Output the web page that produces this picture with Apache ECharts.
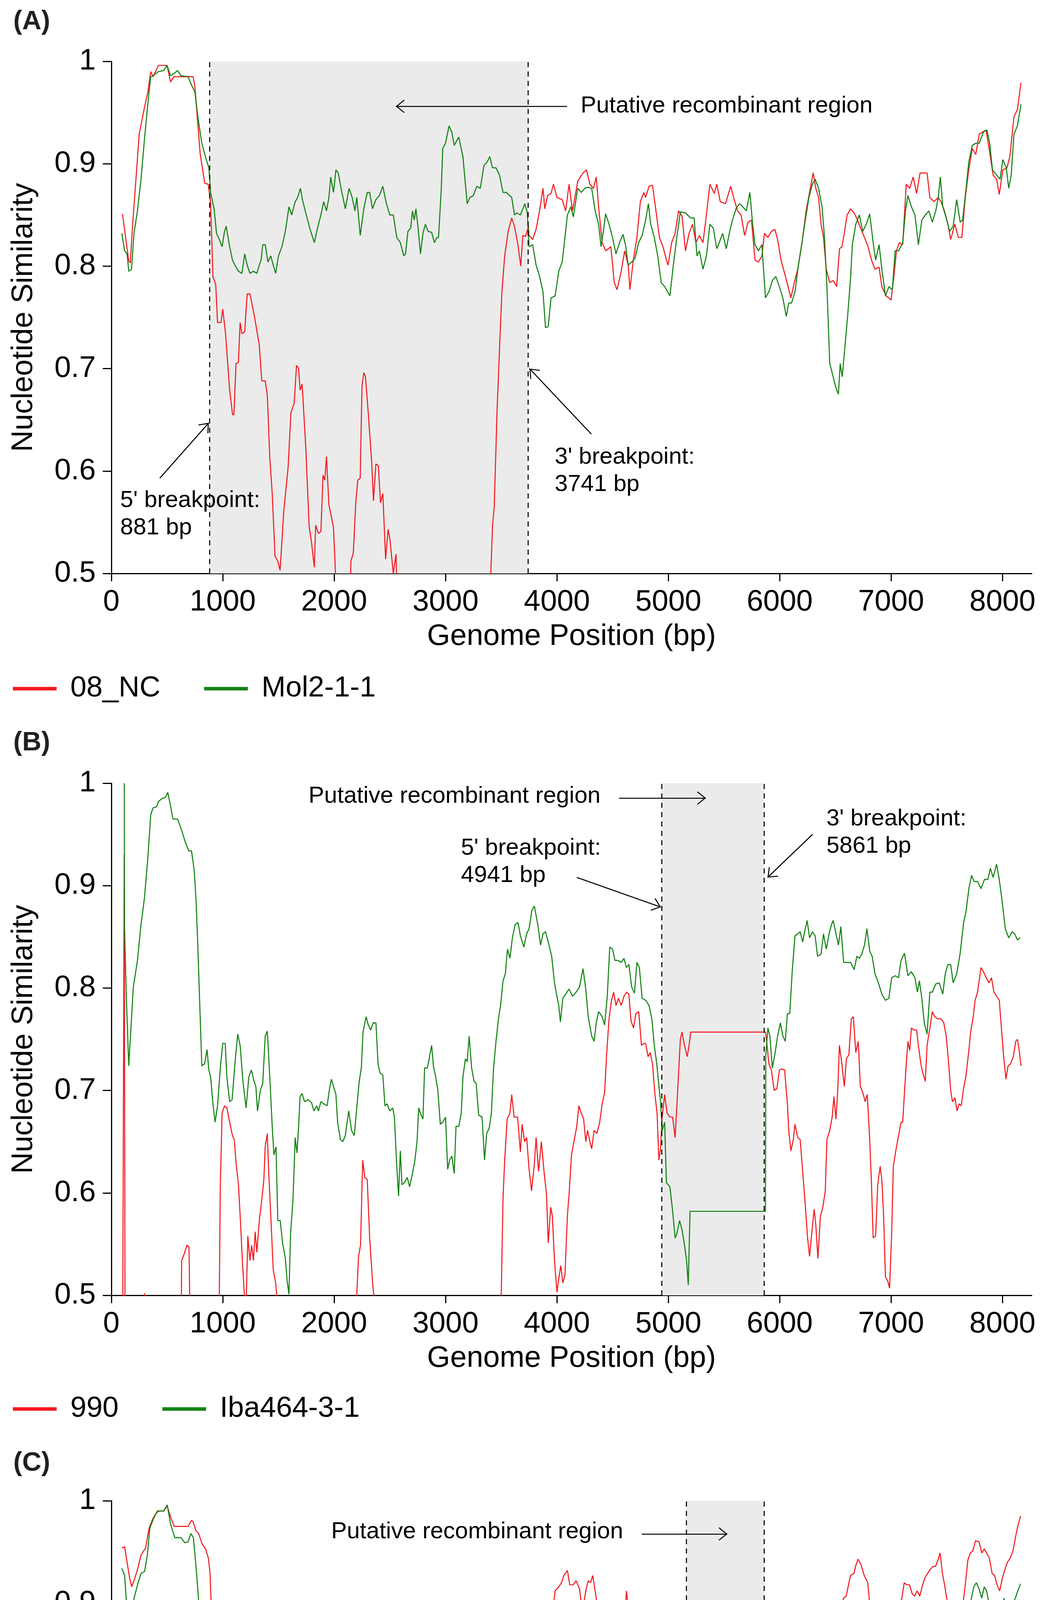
<!DOCTYPE html>
<html>
<head>
<meta charset="utf-8">
<title>Nucleotide similarity plots</title>
<script src="https://cdn.jsdelivr.net/npm/echarts@6/dist/echarts.min.js"></script>
<style>
html, body { margin: 0; padding: 0; background: #fff; }
#chart { width: 2692px; height: 5495px; }
</style>
</head>
<body>
<div id="chart"></div>
<script>
// axis ticks
const xTicks = [0, 1000, 2000, 3000, 4000, 5000, 6000, 7000, 8000];
const yTicks = [0.5, 0.6, 0.7, 0.8, 0.9, 1];

// ---- panel A : [genome position (bp), similarity]
const namesA = ['08_NC', 'Mol2-1-1'];
const regionA = [881, 3741];
const simA_08NC = [[100,0.851],[156,0.805],[170,0.803],[188,0.836],[250,0.929],[297,0.955],[328,0.970],[353,0.990],[375,0.985],[422,0.996],[500,0.996],[531,0.980],[562,0.985],[688,0.985],[734,0.985],[750,0.975],[797,0.910],[838,0.881],[869,0.880],[890,0.863],[912,0.790],[937,0.782],[953,0.745],[984,0.745],[1000,0.758],[1025,0.734],[1062,0.679],[1088,0.655],[1100,0.655],[1119,0.705],[1140,0.706],[1156,0.745],[1172,0.734],[1197,0.736],[1219,0.773],[1244,0.773],[1281,0.753],[1328,0.723],[1350,0.688],[1381,0.688],[1400,0.674],[1422,0.613],[1444,0.578],[1469,0.517],[1494,0.512],[1515,0.503],[1547,0.560],[1587,0.604],[1612,0.657],[1641,0.666],[1662,0.703],[1681,0.700],[1694,0.679],[1712,0.685],[1744,0.626],[1775,0.547],[1797,0.530],[1822,0.506],[1834,0.547],[1859,0.539],[1881,0.541],[1900,0.596],[1916,0.591],[1931,0.614],[1953,0.567],[1994,0.545],[2009,0.508],[2025,0.46],[2090,0.42],[2145,0.47],[2150,0.512],[2172,0.520],[2194,0.569],[2212,0.591],[2234,0.593],[2250,0.683],[2266,0.696],[2281,0.692],[2306,0.657],[2337,0.609],[2353,0.571],[2375,0.607],[2397,0.605],[2416,0.569],[2437,0.578],[2462,0.514],[2484,0.543],[2500,0.534],[2531,0.500],[2556,0.519],[2565,0.46],[3000,0.40],[3400,0.46],[3406,0.500],[3422,0.547],[3437,0.565],[3462,0.657],[3484,0.718],[3506,0.775],[3531,0.810],[3562,0.834],[3594,0.847],[3619,0.839],[3650,0.821],[3675,0.800],[3694,0.830],[3719,0.829],[3744,0.839],[3750,0.830],[3782,0.826],[3813,0.836],[3844,0.854],[3875,0.876],[3891,0.856],[3916,0.869],[3947,0.871],[3969,0.880],[4000,0.867],[4047,0.865],[4078,0.854],[4109,0.880],[4140,0.854],[4187,0.883],[4234,0.891],[4265,0.894],[4296,0.880],[4328,0.876],[4353,0.887],[4374,0.858],[4406,0.823],[4437,0.815],[4484,0.819],[4515,0.784],[4540,0.777],[4577,0.795],[4608,0.815],[4640,0.801],[4655,0.777],[4686,0.806],[4718,0.828],[4749,0.863],[4780,0.872],[4796,0.867],[4827,0.878],[4858,0.879],[4889,0.854],[4920,0.828],[4952,0.819],[4983,0.806],[4998,0.801],[5030,0.823],[5061,0.832],[5092,0.854],[5123,0.849],[5154,0.815],[5186,0.832],[5217,0.841],[5248,0.823],[5279,0.830],[5311,0.823],[5342,0.850],[5373,0.880],[5413,0.871],[5435,0.880],[5466,0.863],[5513,0.861],[5560,0.878],[5591,0.865],[5622,0.854],[5653,0.850],[5685,0.830],[5716,0.843],[5747,0.845],[5778,0.806],[5809,0.804],[5840,0.810],[5863,0.832],[5894,0.828],[5925,0.834],[5956,0.836],[5981,0.826],[6012,0.806],[6044,0.793],[6075,0.780],[6100,0.769],[6131,0.784],[6162,0.797],[6200,0.823],[6237,0.854],[6268,0.872],[6300,0.891],[6324,0.876],[6349,0.867],[6371,0.841],[6393,0.828],[6418,0.797],[6449,0.784],[6480,0.786],[6511,0.780],[6537,0.817],[6558,0.819],[6580,0.832],[6605,0.850],[6636,0.856],[6668,0.852],[6699,0.845],[6730,0.836],[6761,0.828],[6793,0.819],[6824,0.806],[6855,0.797],[6892,0.799],[6917,0.780],[6955,0.771],[6980,0.769],[7000,0.767],[7026,0.791],[7048,0.815],[7073,0.823],[7104,0.821],[7136,0.880],[7167,0.876],[7198,0.887],[7229,0.871],[7260,0.891],[7292,0.891],[7323,0.891],[7348,0.867],[7385,0.863],[7423,0.867],[7448,0.863],[7479,0.854],[7510,0.841],[7535,0.826],[7572,0.841],[7604,0.828],[7635,0.828],[7666,0.867],[7697,0.894],[7729,0.915],[7760,0.909],[7791,0.929],[7822,0.931],[7853,0.933],[7885,0.911],[7916,0.889],[7947,0.885],[7971,0.870],[8003,0.894],[8040,0.896],[8066,0.907],[8103,0.946],[8134,0.953],[8166,0.979]];
const simA_Mol211 = [[94,0.832],[119,0.815],[141,0.812],[156,0.795],[181,0.797],[203,0.832],[234,0.854],[266,0.885],[297,0.924],[328,0.959],[353,0.985],[375,0.986],[422,0.990],[469,0.991],[500,0.996],[531,0.986],[562,0.988],[594,0.991],[625,0.986],[688,0.985],[719,0.977],[750,0.970],[781,0.942],[812,0.920],[844,0.907],[875,0.896],[891,0.872],[922,0.856],[944,0.832],[969,0.826],[994,0.819],[1016,0.834],[1031,0.839],[1062,0.819],[1087,0.806],[1109,0.801],[1141,0.795],[1172,0.793],[1197,0.812],[1219,0.801],[1244,0.793],[1275,0.795],[1306,0.793],[1328,0.801],[1344,0.806],[1359,0.821],[1381,0.821],[1406,0.804],[1431,0.810],[1453,0.801],[1475,0.793],[1500,0.810],[1531,0.819],[1562,0.834],[1594,0.858],[1619,0.850],[1650,0.863],[1672,0.867],[1697,0.876],[1719,0.863],[1750,0.850],[1781,0.837],[1822,0.823],[1850,0.837],[1881,0.850],[1906,0.863],[1931,0.854],[1953,0.867],[1969,0.887],[1994,0.872],[2016,0.894],[2037,0.891],[2062,0.876],[2100,0.856],[2134,0.876],[2162,0.867],[2187,0.854],[2203,0.867],[2234,0.830],[2266,0.856],[2297,0.872],[2319,0.872],[2344,0.856],[2375,0.865],[2406,0.869],[2437,0.878],[2469,0.861],[2500,0.850],[2531,0.850],[2562,0.828],[2594,0.823],[2625,0.810],[2641,0.812],[2662,0.834],[2687,0.837],[2703,0.854],[2719,0.845],[2734,0.856],[2750,0.841],[2775,0.812],[2797,0.832],[2819,0.841],[2844,0.834],[2875,0.833],[2900,0.823],[2922,0.828],[2937,0.828],[2962,0.876],[2975,0.915],[3000,0.920],[3031,0.937],[3056,0.931],[3078,0.918],[3119,0.926],[3156,0.907],[3194,0.861],[3219,0.867],[3250,0.869],[3281,0.878],[3312,0.876],[3344,0.898],[3375,0.902],[3397,0.907],[3422,0.896],[3453,0.896],[3484,0.889],[3516,0.872],[3547,0.872],[3594,0.867],[3619,0.850],[3641,0.852],[3672,0.850],[3712,0.861],[3734,0.852],[3750,0.819],[3782,0.821],[3813,0.801],[3844,0.790],[3875,0.775],[3897,0.740],[3922,0.741],[3947,0.769],[3984,0.771],[4016,0.795],[4047,0.804],[4072,0.828],[4094,0.850],[4125,0.858],[4147,0.848],[4187,0.876],[4218,0.872],[4250,0.876],[4281,0.877],[4312,0.876],[4343,0.854],[4374,0.841],[4396,0.819],[4421,0.837],[4437,0.851],[4468,0.841],[4499,0.828],[4530,0.812],[4562,0.823],[4593,0.831],[4615,0.821],[4640,0.801],[4671,0.804],[4702,0.808],[4733,0.823],[4765,0.830],[4796,0.845],[4821,0.861],[4842,0.841],[4874,0.828],[4905,0.810],[4936,0.784],[4968,0.780],[5014,0.771],[5045,0.801],[5076,0.828],[5108,0.853],[5154,0.852],[5201,0.847],[5232,0.847],[5257,0.810],[5279,0.815],[5311,0.797],[5342,0.810],[5373,0.841],[5404,0.837],[5435,0.817],[5457,0.823],[5488,0.832],[5520,0.817],[5551,0.834],[5576,0.845],[5607,0.856],[5638,0.861],[5669,0.858],[5700,0.854],[5732,0.872],[5757,0.841],[5778,0.821],[5809,0.815],[5840,0.821],[5872,0.769],[5903,0.775],[5934,0.786],[5965,0.790],[5997,0.780],[6028,0.769],[6059,0.751],[6081,0.764],[6106,0.764],[6137,0.775],[6168,0.801],[6200,0.823],[6230,0.845],[6262,0.867],[6293,0.880],[6318,0.885],[6349,0.876],[6380,0.858],[6402,0.828],[6424,0.780],[6449,0.705],[6480,0.692],[6505,0.681],[6527,0.675],[6543,0.705],[6561,0.692],[6590,0.727],[6611,0.753],[6636,0.788],[6652,0.821],[6683,0.841],[6715,0.850],[6746,0.834],[6777,0.841],[6808,0.851],[6839,0.823],[6861,0.806],[6892,0.821],[6917,0.797],[6949,0.771],[6980,0.780],[7011,0.777],[7036,0.815],[7067,0.815],[7104,0.823],[7129,0.854],[7151,0.869],[7182,0.858],[7214,0.850],[7245,0.821],[7276,0.845],[7307,0.850],[7339,0.854],[7370,0.843],[7401,0.854],[7423,0.867],[7442,0.887],[7464,0.858],[7495,0.847],[7526,0.834],[7557,0.839],[7589,0.865],[7620,0.843],[7642,0.845],[7673,0.876],[7698,0.902],[7729,0.918],[7760,0.920],[7791,0.920],[7829,0.931],[7860,0.933],[7885,0.920],[7910,0.894],[7947,0.889],[7978,0.885],[8003,0.904],[8034,0.896],[8056,0.876],[8078,0.889],[8103,0.929],[8134,0.937],[8166,0.958]];
const textA = [
  ['Putative recombinant region', 4214, 0.956],
  ["5' breakpoint:\n881 bp", 81, 0.5575],
  ["3' breakpoint:\n3741 bp", 3982, 0.600]
];
const arrowA = [
  [[4091, 0.956], [2554, 0.956]],
  [[435, 0.593], [874, 0.647]],
  [[4309, 0.636], [3754, 0.700]]
];

// ---- panel B
const namesB = ['990', 'Iba464-3-1'];
const regionB = [4941, 5861];
const simB_990 = [[100,0.40],[115,0.930],[124,0.40],[290,0.46],[297,0.502],[304,0.46],[625,0.45],[631,0.534],[656,0.541],[678,0.549],[697,0.547],[703,0.50],[710,0.45],[960,0.45],[969,0.50],[978,0.608],[994,0.678],[1016,0.685],[1037,0.683],[1062,0.669],[1087,0.656],[1103,0.652],[1119,0.630],[1141,0.608],[1156,0.578],[1178,0.530],[1194,0.500],[1212,0.500],[1225,0.558],[1244,0.534],[1259,0.549],[1275,0.534],[1291,0.562],[1306,0.542],[1328,0.573],[1350,0.593],[1369,0.613],[1381,0.645],[1400,0.658],[1412,0.621],[1431,0.578],[1453,0.525],[1475,0.512],[1484,0.500],[1492,0.45],[2195,0.45],[2203,0.500],[2219,0.538],[2237,0.549],[2256,0.632],[2275,0.615],[2297,0.613],[2319,0.556],[2344,0.514],[2356,0.500],[2365,0.45],[3490,0.45],[3500,0.500],[3516,0.595],[3531,0.632],[3553,0.672],[3578,0.678],[3594,0.696],[3616,0.674],[3647,0.674],[3672,0.640],[3687,0.667],[3710,0.650],[3728,0.654],[3750,0.623],[3772,0.602],[3797,0.628],[3813,0.654],[3835,0.621],[3860,0.650],[3884,0.621],[3906,0.599],[3922,0.551],[3944,0.586],[3959,0.577],[3978,0.534],[4000,0.503],[4016,0.516],[4034,0.529],[4053,0.512],[4072,0.520],[4094,0.578],[4109,0.599],[4131,0.637],[4156,0.652],[4178,0.665],[4197,0.685],[4218,0.678],[4240,0.672],[4259,0.650],[4275,0.661],[4296,0.650],[4312,0.643],[4334,0.661],[4359,0.658],[4384,0.669],[4406,0.687],[4428,0.698],[4446,0.735],[4468,0.770],[4490,0.788],[4509,0.796],[4530,0.783],[4552,0.790],[4577,0.783],[4602,0.792],[4624,0.796],[4646,0.794],[4665,0.768],[4687,0.761],[4709,0.775],[4734,0.777],[4759,0.744],[4780,0.746],[4796,0.746],[4818,0.733],[4837,0.737],[4858,0.726],[4880,0.696],[4899,0.678],[4915,0.632],[4930,0.643],[4945,0.674],[4967,0.696],[4989,0.678],[5014,0.674],[5039,0.674],[5061,0.654],[5076,0.683],[5092,0.717],[5108,0.750],[5123,0.757],[5145,0.744],[5170,0.733],[5189,0.746],[5201,0.757],[5872,0.757],[5881,0.750],[5903,0.726],[5925,0.720],[5950,0.700],[5975,0.702],[5997,0.720],[6019,0.721],[6044,0.720],[6069,0.687],[6081,0.661],[6100,0.641],[6122,0.652],[6137,0.667],[6162,0.654],[6184,0.652],[6206,0.621],[6231,0.586],[6250,0.556],[6268,0.538],[6287,0.560],[6309,0.584],[6324,0.569],[6343,0.536],[6365,0.577],[6387,0.586],[6409,0.602],[6424,0.652],[6449,0.661],[6471,0.674],[6487,0.694],[6505,0.672],[6521,0.700],[6536,0.744],[6558,0.726],[6580,0.704],[6599,0.731],[6621,0.735],[6643,0.770],[6661,0.772],[6683,0.737],[6705,0.748],[6724,0.704],[6746,0.698],[6767,0.689],[6786,0.696],[6808,0.652],[6824,0.608],[6839,0.556],[6861,0.558],[6880,0.608],[6902,0.626],[6917,0.612],[6933,0.577],[6949,0.518],[6970,0.514],[6986,0.507],[7005,0.560],[7020,0.626],[7042,0.641],[7067,0.656],[7089,0.669],[7104,0.669],[7120,0.698],[7136,0.726],[7151,0.748],[7167,0.739],[7182,0.761],[7204,0.759],[7229,0.759],[7245,0.744],[7267,0.726],[7285,0.717],[7307,0.709],[7323,0.744],[7348,0.761],[7370,0.777],[7392,0.772],[7417,0.770],[7448,0.770],[7473,0.766],[7495,0.753],[7517,0.726],[7535,0.700],[7551,0.689],[7573,0.693],[7592,0.680],[7611,0.687],[7629,0.685],[7651,0.702],[7673,0.715],[7698,0.739],[7714,0.757],[7735,0.770],[7754,0.788],[7776,0.796],[7807,0.820],[7829,0.816],[7854,0.810],[7879,0.805],[7901,0.810],[7923,0.796],[7947,0.792],[7971,0.788],[7993,0.757],[8009,0.735],[8031,0.711],[8050,0.724],[8072,0.726],[8097,0.733],[8119,0.748],[8134,0.750],[8150,0.739],[8166,0.724]];
const simB_Iba464 = [[116,1.000],[118,0.860],[134,0.792],[156,0.724],[197,0.801],[234,0.827],[266,0.862],[297,0.888],[328,0.928],[353,0.969],[375,0.976],[406,0.977],[422,0.982],[453,0.985],[484,0.986],[506,0.991],[531,0.978],[553,0.965],[594,0.965],[625,0.956],[662,0.943],[694,0.934],[719,0.934],[744,0.915],[759,0.888],[775,0.845],[791,0.792],[812,0.724],[837,0.726],[859,0.740],[875,0.720],[891,0.713],[912,0.687],[931,0.669],[953,0.685],[978,0.722],[1000,0.746],[1022,0.746],[1037,0.713],[1062,0.689],[1084,0.691],[1109,0.726],[1134,0.755],[1156,0.744],[1181,0.709],[1209,0.683],[1234,0.713],[1256,0.720],[1281,0.709],[1297,0.704],[1312,0.680],[1337,0.700],[1359,0.707],[1381,0.753],[1400,0.758],[1422,0.713],[1444,0.665],[1459,0.637],[1478,0.645],[1494,0.573],[1516,0.573],[1537,0.551],[1562,0.536],[1578,0.514],[1594,0.501],[1609,0.560],[1631,0.595],[1650,0.654],[1666,0.639],[1681,0.665],[1694,0.694],[1712,0.697],[1734,0.689],[1766,0.691],[1797,0.688],[1819,0.680],[1844,0.685],[1859,0.680],[1881,0.689],[1906,0.687],[1937,0.685],[1956,0.700],[1975,0.711],[1994,0.704],[2016,0.696],[2031,0.669],[2056,0.652],[2078,0.650],[2100,0.656],[2131,0.680],[2156,0.661],[2181,0.656],[2203,0.683],[2225,0.709],[2244,0.722],[2259,0.757],[2287,0.772],[2306,0.764],[2328,0.759],[2350,0.766],[2375,0.766],[2394,0.726],[2412,0.717],[2437,0.715],[2456,0.685],[2475,0.687],[2500,0.680],[2525,0.683],[2541,0.674],[2562,0.626],[2578,0.597],[2594,0.641],[2609,0.608],[2631,0.610],[2656,0.615],[2678,0.606],[2703,0.619],[2725,0.632],[2744,0.650],[2759,0.683],[2781,0.676],[2797,0.672],[2812,0.722],[2837,0.722],[2853,0.731],[2875,0.744],[2891,0.724],[2912,0.713],[2931,0.700],[2953,0.667],[2975,0.669],[3000,0.674],[3019,0.623],[3037,0.632],[3056,0.636],[3078,0.619],[3094,0.665],[3119,0.665],[3141,0.678],[3156,0.713],[3178,0.731],[3194,0.728],[3212,0.753],[3234,0.722],[3256,0.709],[3275,0.707],[3297,0.676],[3328,0.674],[3350,0.632],[3369,0.658],[3391,0.663],[3412,0.678],[3431,0.722],[3453,0.748],[3475,0.770],[3494,0.783],[3516,0.807],[3537,0.814],[3556,0.838],[3578,0.829],[3600,0.849],[3625,0.862],[3650,0.864],[3672,0.851],[3703,0.840],[3728,0.853],[3750,0.858],[3775,0.876],[3797,0.880],[3828,0.862],[3853,0.842],[3875,0.853],[3897,0.855],[3922,0.845],[3953,0.831],[3978,0.805],[4000,0.792],[4016,0.783],[4031,0.767],[4053,0.790],[4078,0.794],[4109,0.799],[4140,0.792],[4172,0.796],[4203,0.801],[4234,0.819],[4259,0.799],[4281,0.772],[4312,0.753],[4334,0.748],[4353,0.766],[4374,0.777],[4406,0.772],[4428,0.764],[4452,0.792],[4474,0.840],[4499,0.838],[4521,0.827],[4546,0.827],[4577,0.825],[4602,0.829],[4624,0.820],[4646,0.823],[4671,0.801],[4696,0.795],[4718,0.825],[4740,0.820],[4765,0.790],[4796,0.788],[4827,0.783],[4852,0.770],[4874,0.744],[4896,0.726],[4915,0.705],[4930,0.689],[4945,0.661],[4967,0.669],[4983,0.610],[5014,0.606],[5039,0.582],[5061,0.556],[5076,0.560],[5101,0.573],[5123,0.564],[5145,0.549],[5164,0.534],[5179,0.510],[5195,0.582],[5872,0.582],[5875,0.735],[5894,0.761],[5912,0.753],[5934,0.722],[5956,0.735],[5981,0.753],[6006,0.766],[6028,0.753],[6050,0.748],[6069,0.775],[6090,0.775],[6112,0.816],[6137,0.851],[6162,0.853],[6184,0.855],[6206,0.845],[6224,0.855],[6246,0.866],[6268,0.849],[6293,0.855],[6318,0.851],[6340,0.831],[6371,0.833],[6393,0.853],[6418,0.838],[6443,0.853],[6465,0.862],[6480,0.866],[6505,0.853],[6527,0.842],[6549,0.860],[6574,0.825],[6605,0.825],[6636,0.825],[6668,0.818],[6693,0.831],[6715,0.829],[6736,0.833],[6761,0.842],[6783,0.858],[6808,0.836],[6830,0.831],[6855,0.814],[6886,0.805],[6917,0.794],[6949,0.788],[6980,0.790],[7005,0.810],[7036,0.812],[7067,0.810],[7089,0.827],[7120,0.834],[7151,0.812],[7182,0.816],[7214,0.810],[7236,0.796],[7254,0.807],[7276,0.790],[7298,0.766],[7323,0.755],[7348,0.796],[7370,0.796],[7401,0.804],[7432,0.805],[7464,0.794],[7486,0.814],[7510,0.823],[7535,0.823],[7557,0.805],[7589,0.814],[7620,0.834],[7651,0.864],[7673,0.875],[7698,0.897],[7723,0.910],[7745,0.904],[7776,0.904],[7807,0.897],[7838,0.906],[7869,0.906],[7891,0.917],[7916,0.908],[7947,0.921],[7971,0.906],[7993,0.888],[8025,0.858],[8056,0.849],[8087,0.855],[8109,0.853],[8134,0.847],[8159,0.849]];
const textB = [
  ['Putative recombinant region', 1772, 0.987],
  ["5' breakpoint:\n4941 bp", 3140, 0.923],
  ["3' breakpoint:\n5861 bp", 6421, 0.9515]
];
const arrowB = [
  [[4558, 0.9855], [5337, 0.9855]],
  [[4179, 0.908], [4933, 0.879]],
  [[6295, 0.950], [5891, 0.908]]
];

// ---- panel C
const namesC = ['Iba27-107', 'KNU-1835'];
const regionC = [5161, 5861];
const simC_Iba27 = [[94,0.954],[119,0.955],[141,0.940],[163,0.925],[182,0.916],[203,0.922],[235,0.933],[266,0.947],[307,0.954],[338,0.973],[370,0.982],[391,0.986],[423,0.990],[470,0.990],[501,0.995],[532,0.984],[564,0.975],[626,0.975],[689,0.975],[720,0.981],[736,0.979],[758,0.971],[783,0.968],[814,0.958],[846,0.953],[871,0.944],[886,0.929],[899,0.890],[915,0.837],[940,0.820],[955,0.839],[971,0.815],[996,0.767],[1018,0.741],[1040,0.723],[1065,0.710],[1087,0.704],[1112,0.741],[1128,0.752],[1143,0.752],[1159,0.710],[1184,0.684],[1206,0.710],[1228,0.723],[1240,0.743],[1253,0.682],[1278,0.675],[1300,0.662],[1322,0.629],[1340,0.588],[1353,0.579],[1372,0.605],[1394,0.599],[1416,0.553],[1434,0.509],[1441,0.500],[1450,0.45],[1540,0.45],[1550,0.509],[1572,0.546],[1591,0.524],[1613,0.550],[1635,0.566],[1654,0.620],[1676,0.614],[1698,0.618],[1723,0.631],[1745,0.657],[1760,0.657],[1779,0.631],[1801,0.636],[1823,0.629],[1842,0.655],[1857,0.633],[1879,0.647],[1904,0.642],[1926,0.633],[1948,0.618],[1961,0.570],[1973,0.522],[1989,0.500],[1998,0.45],[2190,0.45],[2199,0.500],[2218,0.574],[2234,0.601],[2256,0.701],[2271,0.695],[2287,0.706],[2302,0.719],[2318,0.680],[2334,0.647],[2355,0.623],[2374,0.666],[2396,0.662],[2418,0.649],[2443,0.612],[2459,0.579],[2481,0.577],[2506,0.553],[2527,0.531],[2537,0.500],[2545,0.45],[2876,0.45],[2881,0.510],[2886,0.45],[3390,0.45],[3398,0.500],[3420,0.561],[3445,0.649],[3470,0.715],[3492,0.785],[3508,0.824],[3524,0.850],[3546,0.852],[3571,0.863],[3604,0.863],[3626,0.842],[3648,0.851],[3673,0.842],[3704,0.857],[3735,0.868],[3760,0.866],[3791,0.848],[3813,0.839],[3835,0.863],[3860,0.852],[3891,0.857],[3916,0.868],[3938,0.877],[3959,0.890],[3984,0.912],[4016,0.916],[4041,0.920],[4062,0.927],[4094,0.932],[4115,0.918],[4147,0.918],[4171,0.922],[4203,0.914],[4218,0.900],[4234,0.895],[4259,0.912],[4281,0.922],[4302,0.920],[4321,0.927],[4343,0.912],[4365,0.896],[4384,0.850],[4405,0.828],[4427,0.815],[4452,0.826],[4477,0.813],[4499,0.804],[4521,0.800],[4546,0.807],[4571,0.828],[4592,0.863],[4608,0.881],[4624,0.912],[4639,0.898],[4664,0.892],[4686,0.890],[4708,0.881],[4733,0.877],[4758,0.861],[4780,0.855],[4801,0.850],[4826,0.852],[4851,0.830],[4873,0.826],[4895,0.820],[4920,0.811],[4945,0.798],[4967,0.798],[4988,0.785],[5007,0.793],[5029,0.804],[5054,0.820],[5076,0.833],[5101,0.839],[5122,0.842],[5144,0.846],[5169,0.847],[5200,0.898],[5861,0.898],[5862,0.846],[5871,0.741],[5880,0.695],[5893,0.730],[5911,0.750],[5933,0.732],[5949,0.752],[5974,0.743],[5995,0.767],[6017,0.782],[6042,0.791],[6067,0.798],[6089,0.804],[6111,0.820],[6136,0.839],[6161,0.850],[6183,0.863],[6205,0.874],[6230,0.883],[6255,0.888],[6277,0.890],[6299,0.888],[6324,0.888],[6349,0.892],[6380,0.898],[6402,0.883],[6424,0.876],[6442,0.870],[6464,0.888],[6486,0.888],[6517,0.888],[6548,0.894],[6573,0.905],[6597,0.907],[6635,0.927],[6666,0.929],[6681,0.936],[6703,0.943],[6728,0.938],[6759,0.927],[6790,0.920],[6815,0.892],[6837,0.877],[6859,0.872],[6884,0.870],[6909,0.863],[6931,0.850],[6953,0.844],[6978,0.850],[6993,0.842],[7003,0.877],[7024,0.888],[7046,0.888],[7071,0.894],[7096,0.905],[7118,0.920],[7140,0.918],[7165,0.918],[7190,0.909],[7212,0.907],[7233,0.912],[7258,0.907],[7283,0.918],[7305,0.925],[7327,0.929],[7352,0.933],[7377,0.936],[7399,0.936],[7421,0.942],[7440,0.949],[7461,0.929],[7483,0.916],[7502,0.903],[7524,0.896],[7546,0.883],[7571,0.885],[7596,0.888],[7617,0.890],[7639,0.894],[7664,0.916],[7689,0.942],[7711,0.949],[7733,0.951],[7758,0.961],[7789,0.960],[7814,0.949],[7836,0.953],[7857,0.949],[7882,0.944],[7907,0.929],[7929,0.927],[7951,0.918],[7975,0.912],[8000,0.925],[8022,0.933],[8044,0.940],[8069,0.944],[8094,0.951],[8116,0.964],[8137,0.975],[8162,0.985]];
const simC_KNU1835 = [[94,0.934],[119,0.927],[141,0.892],[157,0.866],[182,0.896],[204,0.905],[235,0.918],[266,0.929],[298,0.931],[323,0.947],[345,0.973],[376,0.982],[413,0.990],[470,0.990],[501,0.996],[532,0.977],[570,0.964],[626,0.964],[658,0.959],[689,0.960],[714,0.968],[736,0.964],[758,0.938],[777,0.912],[798,0.877],[821,0.850],[839,0.822],[861,0.813],[877,0.798],[893,0.750],[908,0.710],[918,0.680],[940,0.671],[965,0.688],[987,0.710],[1008,0.708],[1034,0.700],[1049,0.708],[1071,0.693],[1096,0.694],[1121,0.710],[1143,0.715],[1165,0.702],[1181,0.666],[1196,0.673],[1222,0.697],[1240,0.723],[1253,0.684],[1272,0.640],[1290,0.623],[1309,0.605],[1331,0.561],[1353,0.546],[1372,0.566],[1394,0.574],[1416,0.533],[1428,0.500],[1436,0.45],[1565,0.45],[1572,0.522],[1591,0.46],[1620,0.46],[1644,0.563],[1660,0.596],[1676,0.574],[1698,0.542],[1723,0.574],[1748,0.588],[1770,0.581],[1795,0.561],[1817,0.561],[1842,0.581],[1858,0.555],[1880,0.574],[1904,0.592],[1926,0.596],[1948,0.609],[1967,0.566],[1979,0.500],[1987,0.45],[2190,0.45],[2199,0.500],[2224,0.592],[2249,0.675],[2271,0.693],[2287,0.710],[2302,0.731],[2318,0.697],[2334,0.666],[2355,0.640],[2374,0.680],[2396,0.666],[2418,0.662],[2443,0.640],[2459,0.561],[2481,0.561],[2506,0.546],[2527,0.528],[2537,0.500],[2545,0.45],[2750,0.45],[2756,0.511],[2762,0.45],[3390,0.45],[3398,0.500],[3420,0.566],[3445,0.636],[3470,0.710],[3492,0.776],[3514,0.824],[3533,0.842],[3555,0.850],[3579,0.842],[3610,0.828],[3635,0.820],[3657,0.809],[3679,0.826],[3704,0.817],[3729,0.828],[3750,0.835],[3772,0.831],[3797,0.846],[3822,0.828],[3844,0.835],[3860,0.835],[3884,0.817],[3906,0.828],[3928,0.817],[3947,0.798],[3969,0.793],[3991,0.787],[4016,0.804],[4041,0.802],[4062,0.804],[4084,0.802],[4109,0.800],[4125,0.824],[4147,0.826],[4165,0.822],[4187,0.831],[4209,0.826],[4234,0.835],[4259,0.842],[4281,0.846],[4302,0.837],[4321,0.839],[4343,0.842],[4365,0.820],[4384,0.798],[4405,0.782],[4421,0.769],[4446,0.776],[4468,0.780],[4490,0.782],[4515,0.776],[4539,0.776],[4561,0.785],[4583,0.806],[4602,0.828],[4624,0.855],[4646,0.848],[4664,0.846],[4686,0.850],[4708,0.855],[4733,0.855],[4758,0.861],[4780,0.855],[4801,0.848],[4826,0.837],[4851,0.828],[4873,0.828],[4895,0.822],[4920,0.802],[4945,0.785],[4967,0.793],[4988,0.793],[5007,0.820],[5029,0.855],[5051,0.861],[5076,0.855],[5101,0.859],[5122,0.870],[5144,0.877],[5169,0.881],[5194,0.842],[5866,0.842],[5871,0.750],[5886,0.745],[5902,0.754],[5918,0.741],[5940,0.745],[5958,0.782],[5980,0.763],[6002,0.767],[6027,0.785],[6049,0.793],[6074,0.802],[6099,0.813],[6121,0.824],[6143,0.844],[6161,0.872],[6183,0.890],[6205,0.892],[6230,0.890],[6249,0.898],[6268,0.883],[6293,0.883],[6311,0.872],[6333,0.842],[6355,0.828],[6380,0.817],[6402,0.809],[6424,0.809],[6449,0.813],[6474,0.837],[6496,0.846],[6517,0.863],[6542,0.881],[6567,0.881],[6589,0.877],[6611,0.870],[6635,0.861],[6660,0.868],[6681,0.872],[6703,0.863],[6728,0.850],[6743,0.824],[6759,0.804],[6784,0.817],[6806,0.828],[6828,0.839],[6853,0.846],[6878,0.848],[6900,0.839],[6921,0.826],[6940,0.837],[6962,0.846],[6984,0.850],[7003,0.842],[7024,0.842],[7046,0.833],[7071,0.822],[7087,0.811],[7102,0.835],[7127,0.846],[7149,0.857],[7171,0.848],[7196,0.852],[7221,0.855],[7243,0.852],[7264,0.863],[7283,0.855],[7305,0.835],[7327,0.830],[7352,0.841],[7377,0.855],[7399,0.866],[7421,0.881],[7446,0.872],[7461,0.859],[7483,0.863],[7508,0.857],[7533,0.855],[7555,0.848],[7577,0.841],[7602,0.837],[7627,0.826],[7649,0.848],[7671,0.868],[7696,0.890],[7721,0.905],[7743,0.916],[7765,0.920],[7789,0.914],[7814,0.905],[7836,0.916],[7857,0.912],[7882,0.898],[7907,0.890],[7929,0.888],[7951,0.885],[7970,0.877],[7992,0.888],[8014,0.905],[8032,0.890],[8044,0.881],[8069,0.894],[8094,0.901],[8116,0.905],[8137,0.912],[8162,0.919]];
const textC = [
  ['Putative recombinant region', 1975, 0.9695],
  ["5' breakpoint:\n5161 bp", 3702, 0.622],
  ["3' breakpoint:\n5861 bp", 6102, 0.5735]
];
const arrowC = [
  [[4761, 0.9676], [5530, 0.9676]],
  [[4495, 0.654], [5175, 0.719]],
  [[6358, 0.609], [5891, 0.668]]
];

// ---- styling / layout
const RED = '#f41a1f';
const GREEN = '#128212';
const INK = '#000';
const FONT = '"Liberation Sans", Arial, Helvetica, sans-serif';
// open arrow head, tip at the centre of its box (first sub-path only pads the box)
const ARROW = 'path://M17,-22L17.01,-22L17,-21.99Z M17,0L34,21L32,22.6L17,4L2,22.6L0,21Z';

const panels = [
  { tag: '(A)', top: 157, tagTop: 22, legendTop: 1726, names: namesA, data: [simA_08NC, simA_Mol211], region: regionA, text: textA, arrows: arrowA },
  { tag: '(B)', top: 2005, tagTop: 1868, legendTop: 3570, names: namesB, data: [simB_990, simB_Iba464], region: regionB, text: textB, arrows: arrowB },
  { tag: '(C)', top: 3842, tagTop: 3712, legendTop: 5415, names: namesC, data: [simC_Iba27, simC_KNU1835], region: regionC, text: textC, arrows: arrowC }
];

const option = {
  animation: false,
  backgroundColor: '#fff',
  title: [], grid: [], xAxis: [], yAxis: [], legend: [], series: []
};

panels.forEach((p, i) => {
  option.title.push({
    text: p.tag, left: 34, top: p.tagTop, padding: 0,
    textStyle: { fontFamily: FONT, fontSize: 68, fontWeight: 'bold', color: '#231f20' }
  });
  option.grid.push({ left: 285, top: p.top, width: 2355, height: 1311 });
  option.xAxis.push({
    type: 'value', gridIndex: i, min: 0, max: 8262, interval: 1000,
    name: 'Genome Position (bp)', nameLocation: 'middle', nameGap: 124,
    nameTextStyle: { fontFamily: FONT, fontSize: 76, color: INK },
    axisLine: { show: true, lineStyle: { color: INK, width: 3 } },
    axisTick: { show: true, length: 20, lineStyle: { color: INK, width: 3 }, customValues: xTicks },
    axisLabel: {
      fontFamily: FONT, fontSize: 76, color: INK, margin: 36, customValues: xTicks,
      formatter: v => String(v)
    },
    splitLine: { show: false }
  });
  option.yAxis.push({
    type: 'value', gridIndex: i, min: 0.5, max: 1, interval: 0.1,
    name: 'Nucleotide Similarity', nameLocation: 'middle', nameGap: 186, nameRotate: 90,
    nameTextStyle: { fontFamily: FONT, fontSize: 76, color: INK },
    axisLine: { show: true, lineStyle: { color: INK, width: 3 } },
    axisTick: { show: true, length: 22, lineStyle: { color: INK, width: 3 }, customValues: yTicks },
    axisLabel: {
      fontFamily: FONT, fontSize: 76, color: INK, margin: 40, customValues: yTicks,
      formatter: v => (v === 1 ? '1' : v.toFixed(1))
    },
    splitLine: { show: false }
  });
  option.legend.push({
    data: p.names, left: 33, top: p.legendTop, padding: 0,
    icon: 'rect', itemWidth: 112, itemHeight: 9, itemGap: 112, selectedMode: false,
    textStyle: { fontFamily: FONT, fontSize: 74, color: INK, padding: [0, 0, 0, 30] }
  });

  // grey recombinant region, behind the curves
  option.series.push({
    type: 'line', xAxisIndex: i, yAxisIndex: i, data: [], z: 1, silent: true,
    markArea: { silent: true, itemStyle: { color: '#ebebeb' }, data: [[{ xAxis: p.region[0] }, { xAxis: p.region[1] }]] }
  });

  [RED, GREEN].forEach((c, k) => {
    option.series.push({
      type: 'line', name: p.names[k], xAxisIndex: i, yAxisIndex: i, data: p.data[k],
      showSymbol: false, symbol: 'none', clip: true, z: 2 + k,
      lineStyle: { color: c, width: 2.7 }, itemStyle: { color: c }
    });
  });

  // breakpoints, arrows and notes
  const dashed = p.region.map(x => ({ xAxis: x, lineStyle: { type: [13, 11], width: 2.7, color: INK } }));
  const arrows = p.arrows.map(a => [
    { coord: a[0], symbol: 'none' },
    { coord: a[1], symbol: ARROW, symbolSize: [34, 44.6] }
  ]);
  option.series.push({
    type: 'line', xAxisIndex: i, yAxisIndex: i, data: [], z: 5, silent: true,
    markLine: {
      silent: true, symbol: ['none', 'none'], label: { show: false },
      lineStyle: { color: INK, width: 2.7, type: 'solid' }, itemStyle: { color: INK },
      emphasis: { disabled: true },
      data: dashed.concat(arrows)
    },
    markPoint: {
      silent: true, symbol: 'circle', symbolSize: 1, itemStyle: { color: 'rgba(0,0,0,0)' },
      label: {
        show: true, position: [0, 0], align: 'left', verticalAlign: 'middle', formatter: '{b}',
        fontFamily: FONT, fontSize: 60, lineHeight: 70, color: INK
      },
      data: p.text.map(t => ({ name: t[0], coord: [t[1], t[2]] }))
    }
  });
});

const chart = echarts.init(document.getElementById('chart'), null, { renderer: 'canvas' });
chart.setOption(option);
</script>
</body>
</html>
